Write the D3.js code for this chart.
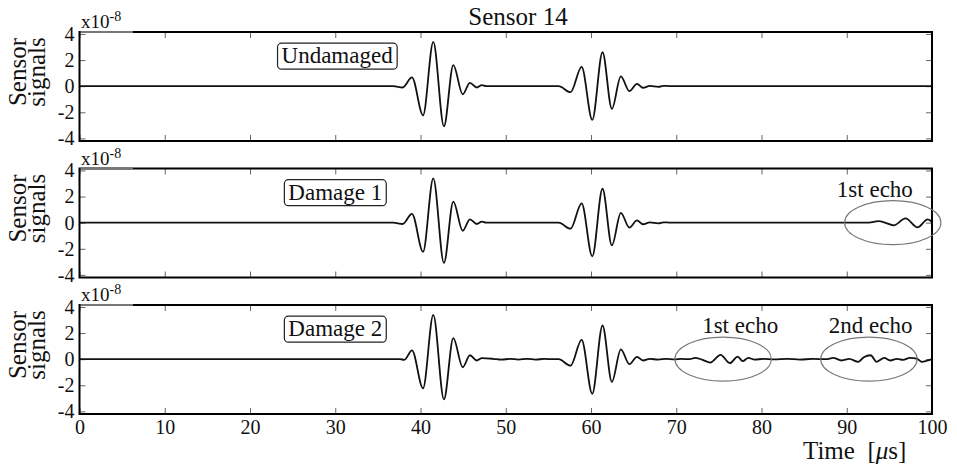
<!DOCTYPE html>
<html>
<head>
<meta charset="utf-8">
<script src="https://cdn.jsdelivr.net/npm/d3@7"></script>
<style>
  body { margin: 0; background: #fff; }
</style>
</head>
<body>
<svg id="chart" width="957" height="466"></svg>
<script>
// time axis [us] and signal values [x1e-8]
var xTicks = [0, 10, 20, 30, 40, 50, 60, 70, 80, 90, 100];
var yTicks = [-4, -2, 0, 2, 4];
var panelNames = ["Undamaged", "Damage 1", "Damage 2"];

var undamagedT = [0, 36.8, 37.9, 39.0, 40.3, 41.5, 42.75, 43.85, 44.95, 45.8, 46.6, 47.2, 47.7,
                  56.2, 57.6, 58.9, 60.15, 61.35, 62.45, 63.5, 64.5, 65.4, 66.1, 66.9, 67.9, 68.5, 69.3, 100];
var undamagedV = [0, 0, -0.1, 0.67, -2.23, 3.4, -3.08, 1.62, -0.62, 0.26, -0.1, 0.08, 0,
                  0, -0.46, 1.48, -2.58, 2.6, -1.74, 0.75, -0.38, 0.18, -0.12, 0.02, -0.05, 0.03, 0, 0];

var damage1T = [0, 36.8, 37.9, 39.0, 40.3, 41.5, 42.75, 43.85, 44.95, 45.8, 46.6, 47.2, 47.7,
                56.2, 57.6, 58.9, 60.15, 61.35, 62.45, 63.5, 64.5, 65.4, 66.1, 66.9, 67.9, 68.5, 69.3,
                92.6, 93.7, 94.7, 95.5, 96.9, 98.3, 99.5, 100];
var damage1V = [0, 0, -0.1, 0.67, -2.23, 3.4, -3.08, 1.62, -0.62, 0.26, -0.1, 0.08, 0,
                0, -0.46, 1.48, -2.58, 2.6, -1.74, 0.75, -0.38, 0.18, -0.12, 0.02, -0.05, 0.03, 0,
                0, 0.12, -0.05, -0.2, 0.33, -0.36, 0.25, 0.05];

var damage2T = [0, 37.6, 38.1, 39.0, 40.3, 41.5, 42.75, 43.85, 44.95, 45.8, 46.6, 47.2,
                48.5, 49.5, 50.5, 51.5, 52.5, 53.5, 54.5, 55.6,
                56.2, 57.6, 58.9, 60.15, 61.35, 62.45, 63.5, 64.5, 65.4, 66.1, 66.9, 67.9, 68.8, 69.8, 70.6,
                71.6, 72.2, 73.0, 74.0, 75.2, 76.3, 77.2, 77.8, 78.45, 79.2, 80.2, 81.5, 83.0, 84.5, 86.0,
                87.6, 88.4, 89.4, 90.3, 91.35, 92.0, 92.8, 93.5, 94.4, 95.1, 95.9, 96.6, 97.4, 98.2, 98.8, 99.4, 100];
var damage2V = [0, 0, -0.05, 0.67, -2.23, 3.4, -3.08, 1.62, -0.62, 0.3, -0.1, 0.08,
                0.03, -0.04, 0.03, -0.03, 0.03, -0.03, 0.02, 0,
                0, -0.5, 1.48, -2.65, 2.58, -1.74, 0.75, -0.38, 0.18, -0.1, 0.03, -0.04, 0.03, -0.02, 0.02,
                0, 0.1, -0.03, -0.26, 0.33, -0.31, 0.2, -0.15, 0.1, -0.03, 0.02, -0.02, 0.03, -0.03, 0.02,
                0, 0.1, -0.1, 0.02, -0.2, 0.15, 0.3, -0.2, 0.1, -0.1, 0.03, -0.05, 0.1, 0.05, -0.2, -0.12, 0];

var signalsT = [undamagedT, damage1T, damage2T];
var signalsV = [undamagedV, damage1V, damage2V];

// echo annotations: panel, label, ellipse centre time, label centre time
var echoPanel = [1, 2, 2];
var echoLabel = ["1st echo", "1st echo", "2nd echo"];
var echoTime = [95.4, 75.5, 92.6];
var echoLabelTime = [93.3, 77.5, 92.8];

var serif = "'Liberation Serif'";
var svg = d3.select("#chart").attr("font-family", serif);
var panelTop = [32, 168.5, 305];
var panelH = 109;
var left = 79.5, right = 932;

var x = d3.scaleLinear().domain([0, 100]).range([left, right]);

function txt(sel, size) {
  return sel.style("font-family", serif).style("font-size", size + "px").attr("fill", "#111");
}

panelTop.forEach(function(top, p) {
  var y = d3.scaleLinear().domain([-4.2, 4.15]).range([top + panelH, top]);
  var g = svg.append("g");

  // inward ticks on all four sides
  var bottomAx = d3.axisBottom(x).tickValues(xTicks).tickSizeInner(-6).tickSizeOuter(0).tickPadding(6)
      .tickFormat(p == 2 ? function(d) { return d; } : "");
  var topAx = d3.axisTop(x).tickValues(xTicks).tickSizeInner(-6).tickSizeOuter(0).tickFormat("");
  var leftAx = d3.axisLeft(y).tickValues(yTicks).tickSizeInner(-6).tickSizeOuter(0).tickPadding(5)
      .tickFormat(function(d) { return String(d); });
  var rightAx = d3.axisRight(y).tickValues(yTicks).tickSizeInner(-6).tickSizeOuter(0).tickFormat("");

  [[bottomAx, "translate(0," + (top + panelH) + ")"],
   [topAx, "translate(0," + top + ")"],
   [leftAx, "translate(" + left + ",0)"],
   [rightAx, "translate(" + right + ",0)"]].forEach(function(a) {
    var ax = g.append("g").attr("transform", a[1]).call(a[0]).attr("font-family", serif);
    ax.select(".domain").remove();
    ax.selectAll("line").attr("stroke", "#666").attr("stroke-width", 1);
    txt(ax.selectAll("text"), 20);
  });

  // signal
  var line = d3.line()
      .x(function(d) { return x(d[0]); })
      .y(function(d) { return y(d[1]); })
      .curve(d3.curveMonotoneX);
  var pts = signalsT[p].map(function(t, i) { return [t, signalsV[p][i]]; });
  g.append("path").datum(pts).attr("d", line)
      .attr("fill", "none").attr("stroke", "#111").attr("stroke-width", 1.8);

  // frame
  g.append("rect").attr("x", left).attr("y", top).attr("width", right - left).attr("height", panelH)
      .attr("fill", "none").attr("stroke", "#000").attr("stroke-width", 2);
  g.append("line").attr("x1", left + 1).attr("x2", 133).attr("y1", top).attr("y2", top)
      .attr("stroke", "#777").attr("stroke-width", 2);

  // exponent
  var ex = txt(g.append("text").attr("x", 81).attr("y", top - 4), 19).text("x10");
  ex.append("tspan").attr("dy", -7).style("font-size", "14px").text("-8");

  // y label
  var cy = top + 40;
  txt(g.append("text").attr("transform", "translate(26," + cy + ") rotate(-90)")
      .attr("text-anchor", "middle"), 25).text("Sensor");
  txt(g.append("text").attr("transform", "translate(45," + cy + ") rotate(-90)")
      .attr("text-anchor", "middle"), 25).text("signals");

  // boxed case label
  var box = g.append("rect");
  var lt = txt(g.append("text").attr("x", x(p == 0 ? 23.7 : 24.5)).attr("y", y(2.3) + 7), 23)
      .text(panelNames[p]);
  var bb = lt.node().getBBox();
  box.attr("x", bb.x - 4).attr("y", y(2.3) - 13)
      .attr("width", bb.width + 8).attr("height", 26).attr("rx", 4)
      .attr("fill", "#fff").attr("stroke", "#222").attr("stroke-width", 1.2);

  // echoes
  echoPanel.forEach(function(ep, i) {
    if (ep != p) return;
    g.append("ellipse").attr("cx", x(echoTime[i])).attr("cy", y(0))
        .attr("rx", x(5.65) - x(0)).attr("ry", 22)
        .attr("fill", "none").attr("stroke", "#777").attr("stroke-width", 1.1);
    txt(g.append("text").attr("x", x(echoLabelTime[i])).attr("y", y(0) - 26)
        .attr("text-anchor", "middle"), 23).text(echoLabel[i]);
  });
});

txt(svg.append("text").attr("x", 518).attr("y", 25).attr("text-anchor", "middle"), 25).text("Sensor 14");

var xl = txt(svg.append("text").attr("x", 803).attr("y", 459), 25).attr("xml:space", "preserve");
xl.append("tspan").text("Time  [");
xl.append("tspan").style("font-style", "italic").text("μ");
xl.append("tspan").text("s]");
</script>
</body>
</html>
